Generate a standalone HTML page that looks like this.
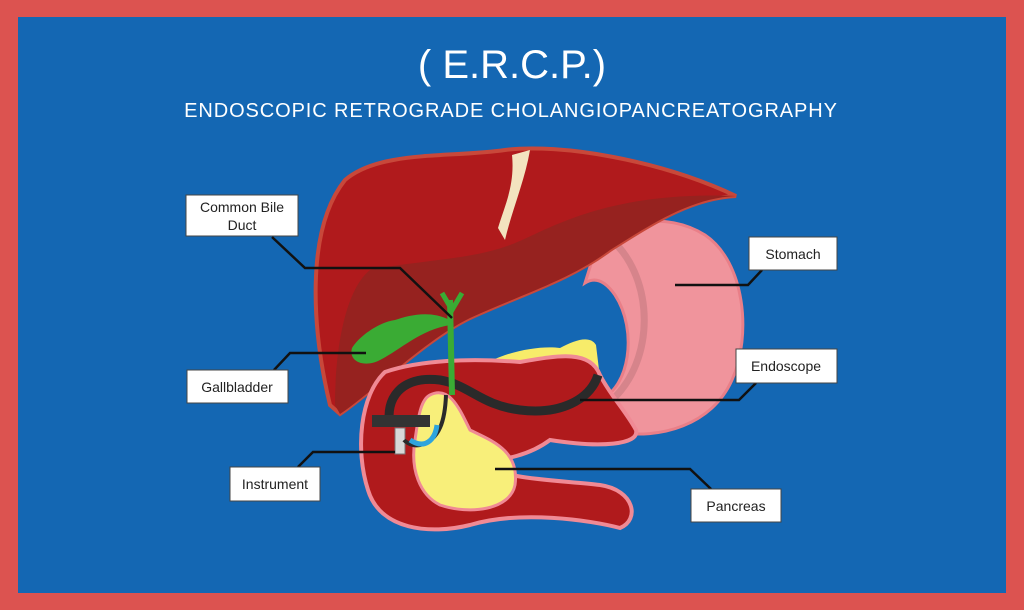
<!DOCTYPE html>
<html><head><meta charset="utf-8"><style>
html,body{margin:0;padding:0;}
body{width:1024px;height:610px;overflow:hidden;background:#dc5350;font-family:"Liberation Sans",sans-serif;}
</style></head><body>
<svg width="1024" height="610" viewBox="0 0 1024 610" xmlns="http://www.w3.org/2000/svg" style="position:absolute;left:0;top:0">
<rect x="0" y="0" width="1024" height="610" fill="#dc5350"/>
<rect x="18" y="17" width="988" height="576" fill="#1467b3"/>
<text x="512" y="78" text-anchor="middle" font-size="40" fill="#fff" font-family="Liberation Sans, sans-serif">( E.R.C.P.)</text>
<text x="511" y="117" text-anchor="middle" font-size="20" fill="#fff" letter-spacing="0.9" font-family="Liberation Sans, sans-serif">ENDOSCOPIC  RETROGRADE  CHOLANGIOPANCREATOGRAPHY</text>

<!-- stomach -->
<path d="M596,248 C615,222 665,210 705,235 C745,262 752,335 732,380 C712,425 660,440 615,432 L598,400 C630,390 638,330 615,295 C606,282 596,276 585,283 Z" fill="#f0949c" stroke="#e97f88" stroke-width="3"/>
<path d="M612,240 C655,280 655,360 612,400" fill="none" stroke="#cf7f87" stroke-width="7" opacity="0.8"/>

<!-- liver -->
<path d="M330,405 C312,330 305,230 345,180 C380,150 450,158 505,150 C560,143 660,160 736,196 C690,198 650,225 610,250 C570,280 520,295 470,318 C425,340 375,390 340,414 Z" fill="#b01a1c" stroke="#c8483a" stroke-width="4"/>
<path d="M335,405 C335,350 345,290 370,270 C420,260 470,260 510,245 C540,235 600,190 736,196 C690,198 650,225 610,250 C570,280 520,295 470,318 C425,340 375,390 340,414 Z" fill="#96221f"/>
<path d="M498,228 C505,205 515,185 512,155 L530,150 C525,180 512,210 505,240 Z" fill="#f3e3bf"/>

<!-- yellow fat above duodenum -->
<path d="M480,368 C500,352 540,345 560,348 C575,340 590,335 596,345 L600,378 L480,378 Z" fill="#f7ec6a"/>

<!-- duodenum -->
<path d="M385,372 C420,360 470,358 520,362 C560,355 590,350 600,375 C610,395 625,410 636,430 C640,445 600,448 550,440 C530,455 505,460 480,462 C500,480 560,480 600,485 C635,490 640,520 620,528 C590,520 520,510 470,525 C430,535 380,530 368,490 C355,450 360,395 385,372 Z" fill="#b01a1c" stroke="#f08a95" stroke-width="4"/>
<!-- pancreas -->
<path d="M430,395 C450,385 460,410 470,430 C490,440 520,450 515,485 C510,510 470,515 440,505 C420,495 410,470 415,440 C418,420 420,400 430,395 Z" fill="#f8ef7a" stroke="#f08a95" stroke-width="3"/>
<!-- endoscope -->
<path d="M598,375 C590,400 560,415 520,410 C480,405 470,385 440,380 C400,375 385,400 390,425" fill="none" stroke="#2a2a2a" stroke-width="9"/>
<rect x="372" y="415" width="58" height="12" fill="#333"/>
<rect x="395" y="428" width="10" height="26" fill="#d8d8d8" stroke="#777" stroke-width="1"/>
<path d="M446,395 C445,420 440,440 420,445 C410,447 404,440 404,440" fill="none" stroke="#2a2a2a" stroke-width="4"/>
<path d="M437,425 C435,440 425,450 410,440" fill="none" stroke="#2ea4dd" stroke-width="5"/>

<!-- bile duct & gallbladder -->
<path d="M450,300 L452,395" fill="none" stroke="#3aab34" stroke-width="6"/>
<path d="M442,293 L452,310 L462,293" fill="none" stroke="#3aab34" stroke-width="5"/>
<path d="M450,320 C430,310 410,315 395,320 C380,322 360,335 352,348 C348,362 365,368 380,360 C400,350 420,330 450,325 Z" fill="#3aab34"/>

<!-- lines -->
<g fill="none" stroke="#111" stroke-width="2.5">
<polyline points="272,237 305,268 400,268 452,318"/>
<polyline points="274,370 290,353 366,353"/>
<polyline points="298,467 313,452 395,452"/>
<polyline points="762,270 748,285 675,285"/>
<polyline points="756,383 739,400 580,400"/>
<polyline points="711,489 690,469 495,469"/>
</g>
<g fill="#fff" stroke="#444" stroke-width="1">
<rect x="186" y="195" width="112" height="41"/>
<rect x="187" y="370" width="101" height="33"/>
<rect x="230" y="467" width="90" height="34"/>
<rect x="749" y="237" width="88" height="33"/>
<rect x="736" y="349" width="101" height="34"/>
<rect x="691" y="489" width="90" height="33"/>
</g>
<g font-size="14" fill="#222" text-anchor="middle" font-family="Liberation Sans, sans-serif">
<text x="242" y="212">Common Bile</text>
<text x="242" y="230">Duct</text>
<text x="237" y="392">Gallbladder</text>
<text x="275" y="489">Instrument</text>
<text x="793" y="259">Stomach</text>
<text x="786" y="371">Endoscope</text>
<text x="736" y="511">Pancreas</text>
</g>
</svg>
</body></html>
